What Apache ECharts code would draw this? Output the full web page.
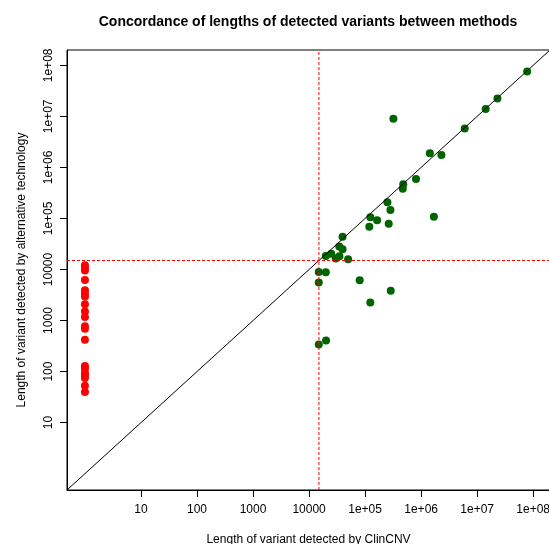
<!DOCTYPE html>
<html>
<head>
<meta charset="utf-8">
<script src="https://cdn.jsdelivr.net/npm/echarts@6/dist/echarts.min.js"></script>
<style>
  html, body { margin: 0; padding: 0; background: #fff; }
  #chart { width: 549px; height: 544px; }
</style>
</head>
<body>
<div id="chart"></div>
<script>
// variant lengths found by both methods
var clinLen = [7.8e7, 2.3e7, 1.42e7, 6.0e6, 3.2e5, 1.43e6, 2.3e6, 8.1e5, 4.8e5, 4.7e5,
  2.5e5, 2.83e5, 1.69e6, 1.24e5, 1.64e5, 1.19e5, 2.64e5, 3.96e4, 3.46e4, 3.96e4,
  2.49e4, 1.99e4, 3.48e4, 3.0e4, 4.98e4, 1.49e4, 1.99e4, 8.0e4, 1.49e4, 2.87e5,
  1.24e5, 1.49e4, 2.01e4];
var altLen = [7.6e7, 2.25e7, 1.39e7, 5.8e6, 9.0e6, 1.9e6, 1.74e6, 5.9e5, 4.7e5, 3.8e5,
  2.07e5, 1.46e5, 1.08e5, 1.06e5, 9.2e4, 6.9e4, 7.9e4, 4.4e4, 2.83e4, 2.5e4,
  2.04e4, 1.84e4, 1.82e4, 1.64e4, 1.58e4, 8970, 8850, 6160, 5560, 3830,
  2250, 340, 408];

// variants missed by ClinCNV (plotted at length 1)
var missedClin = 1;
var missedAlt = [12100, 10650, 9600, 6250, 3900, 3400, 2950, 2080, 1500, 1170,
  770, 690, 420, 128, 113, 93, 84, 75, 53, 40];

var threshold = 15000;
var tickPowers = [1, 2, 3, 4, 5, 6, 7, 8];
var axisMin = -0.32;
var axisMax = 8.30;

var lg = Math.log10;
var fontFam = '"Liberation Sans", Arial, sans-serif';

var dom = document.getElementById('chart');
var myChart = echarts.init(dom, null, { renderer: 'canvas' });

function powLabel(v) {
  var p = Math.round(v);
  if (p < 5) return String(Math.pow(10, p));
  return '1e+0' + p;
}

function logAxis(name, gap, isY) {
  return {
    type: 'value',
    min: axisMin,
    max: axisMax,
    name: name,
    nameLocation: 'middle',
    nameGap: gap,
    nameTextStyle: { color: '#000', fontSize: 12, fontFamily: fontFam },
    splitLine: { show: false },
    axisLine: { show: true, onZero: false, lineStyle: { color: '#000', width: 1 } },
    axisTick: {
      show: true, length: 7, customValues: tickPowers,
      lineStyle: { color: '#000', width: 1 }
    },
    axisLabel: {
      customValues: tickPowers,
      formatter: powLabel,
      color: '#000',
      fontSize: 12,
      fontFamily: fontFam,
      margin: isY ? 12 : 14,
      rotate: isY ? 90 : 0
    }
  };
}

var greenData = clinLen.map(function (x, i) { return [lg(x), lg(altLen[i])]; });
var redData = missedAlt.map(function (y) { return [lg(missedClin), lg(y)]; });

var dashStyle = { color: '#ff0000', width: 1, type: [3, 2] };

var option = {
  backgroundColor: '#fff',
  animation: false,
  title: {
    text: 'Concordance of lengths of detected variants between methods',
    left: 308,
    textAlign: 'center',
    top: 15,
    padding: 0,
    textStyle: { color: '#000', fontSize: 14, fontWeight: 'bold', fontFamily: fontFam }
  },
  grid: {
    left: 67, top: 50, width: 483, height: 440,
    outerBoundsMode: 'none',
    containLabel: false,
    show: true, borderColor: '#000', borderWidth: 1, backgroundColor: 'transparent'
  },
  xAxis: logAxis('Length of variant detected by ClinCNV', 44, false),
  yAxis: logAxis('Length of variant detected by alternative technology', 39, true),
  series: [
    {
      name: 'missed',
      type: 'scatter',
      symbol: 'circle',
      symbolSize: 8,
      itemStyle: { color: '#ff0000', opacity: 1 },
      data: redData,
      z: 2
    },
    {
      name: 'both',
      type: 'scatter',
      symbol: 'circle',
      symbolSize: 8,
      itemStyle: { color: '#006400', opacity: 1 },
      data: greenData,
      z: 2
    },
    {
      name: 'identity',
      type: 'line',
      symbol: 'none',
      silent: true,
      lineStyle: { color: '#000', width: 1 },
      data: [[axisMin, axisMin], [axisMax, axisMax]],
      z: 3
    },
    {
      name: 'threshold x',
      type: 'line',
      symbol: 'none',
      silent: true,
      lineStyle: dashStyle,
      data: [[lg(threshold), axisMin], [lg(threshold), axisMax]],
      z: 4
    },
    {
      name: 'threshold y',
      type: 'line',
      symbol: 'none',
      silent: true,
      lineStyle: dashStyle,
      data: [[axisMin, lg(threshold)], [axisMax, lg(threshold)]],
      z: 4
    }
  ]
};

if (option && typeof option === 'object') {
  myChart.setOption(option);
}

window.addEventListener('resize', myChart.resize);
</script>
</body>
</html>
